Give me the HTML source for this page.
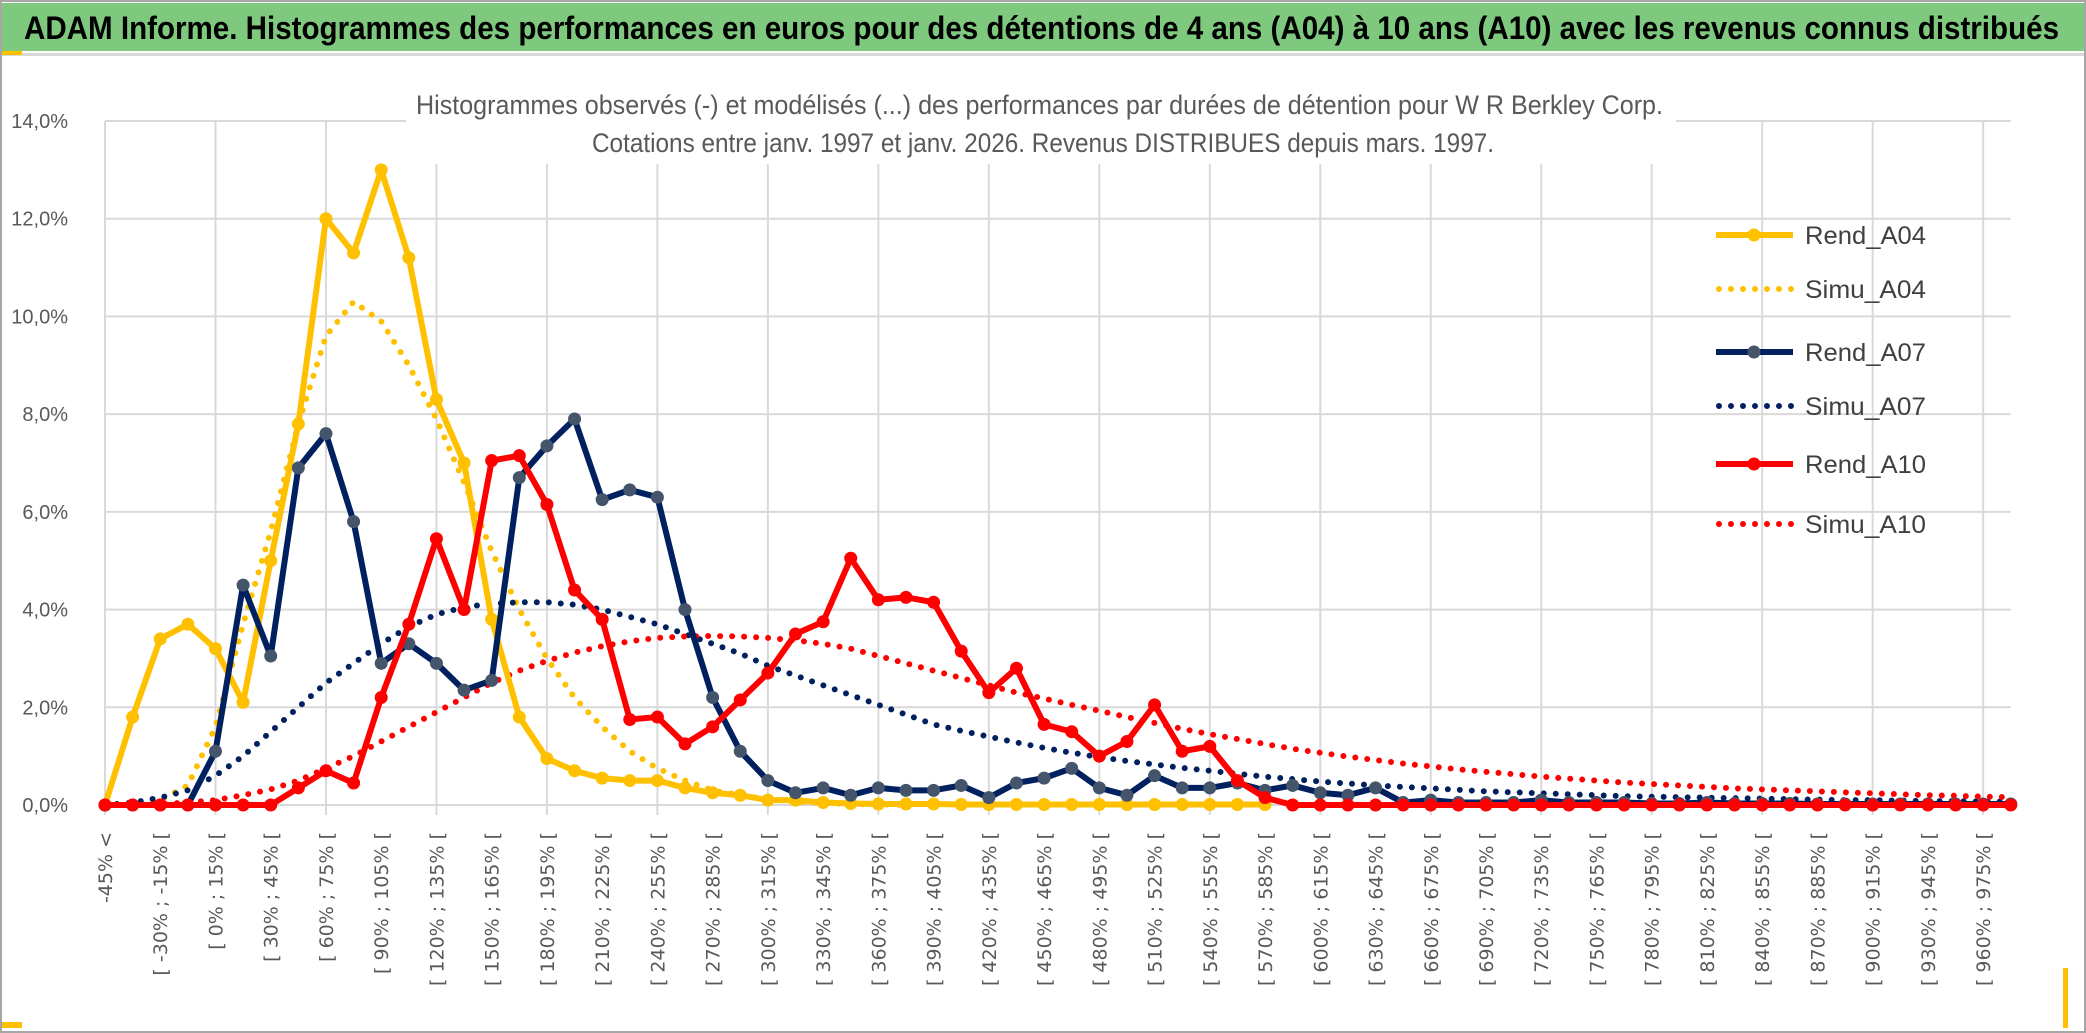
<!DOCTYPE html>
<html><head><meta charset="utf-8"><style>
html,body{margin:0;padding:0;background:#fff;}
svg{display:block;font-family:"Liberation Sans",sans-serif;}
</style></head><body>
<svg id="chart" width="2086" height="1033" viewBox="0 0 2086 1033" xmlns="http://www.w3.org/2000/svg">
<rect x="1" y="1" width="2084" height="1031" fill="#fff" stroke="#a6a6a6" stroke-width="2"/>
<rect x="2" y="3" width="2082" height="48" fill="#7fc97f"/>
<rect x="2" y="53" width="2082" height="3" fill="#d9d9d9"/>
<rect x="2" y="51" width="20" height="4" fill="#ffc000"/>
<rect x="2" y="1022" width="20" height="6" fill="#ffc000"/>
<rect x="2063" y="968" width="5" height="60" fill="#ffc000"/>
<text x="24" y="39" font-size="32" font-weight="bold" fill="#000" textLength="2035" lengthAdjust="spacingAndGlyphs">ADAM Informe. Histogrammes des performances en euros pour des détentions de 4 ans (A04) à 10 ans (A10) avec les revenus connus distribués</text>
<g id="grid"></g><g id="axes"></g>
<rect x="406" y="78" width="1270" height="86" fill="#fff"/>
<text x="416" y="114" font-size="27" fill="#595959" textLength="1247" lengthAdjust="spacingAndGlyphs">Histogrammes observés (-) et modélisés (...) des performances par durées de détention pour W R Berkley Corp.</text>
<text x="592" y="152" font-size="27" fill="#595959" textLength="902" lengthAdjust="spacingAndGlyphs">Cotations entre janv. 1997 et janv. 2026. Revenus DISTRIBUES depuis mars. 1997.</text>
<g id="series"></g><g id="legend"></g>
</svg>
<script>
const categories = (function(){const c=["-45% <"];for(let a=-45;a<=990;a+=15){c.push("[ "+a+"% ; "+(a+15)+"% [");}return c.slice(0,70);})();
const yTicks = [0,2,4,6,8,10,12,14];
const yTickLabels = ["0,0%","2,0%","4,0%","6,0%","8,0%","10,0%","12,0%","14,0%"];
const rendA04 = [0,1.8,3.4,3.7,3.2,2.1,5.0,7.8,12.0,11.3,13.0,11.2,8.3,7.0,3.8,1.8,0.95,0.7,0.55,0.5,0.5,0.35,0.25,0.2,0.1,0.1,0.05,0.03,0.02,0.02,0.02,0.01,0.01,0.01,0.01,0.01,0.01,0.01,0.01,0.01,0.01,0.01,0.01];
const simuA04 = [0,0.02,0.1,0.4,1.6,3.7,5.6,7.8,9.6,10.3,9.9,9.0,7.9,6.6,5.2,4.0,3.0,2.2,1.6,1.1,0.75,0.5,0.3,0.2,0.12,0.07,0.04,0.02,0.01,0];
const rendA07 = [0,0,0,0,1.1,4.5,3.05,6.9,7.6,5.8,2.9,3.3,2.9,2.35,2.55,6.7,7.35,7.9,6.25,6.45,6.3,4.0,2.2,1.1,0.5,0.25,0.35,0.2,0.35,0.3,0.3,0.4,0.15,0.45,0.55,0.75,0.35,0.2,0.6,0.35,0.35,0.45,0.3,0.4,0.25,0.2,0.35,0.05,0.1,0.05,0.05,0.05,0.1,0.05,0.05,0.05,0.03,0.03,0.05,0.03,0.03,0.03,0.02,0.02,0.02,0.02,0.02,0.02,0.02,0.02];
const simuA07 = [0,0.05,0.15,0.3,0.6,1.0,1.5,2.0,2.5,2.9,3.3,3.65,3.9,4.05,4.12,4.15,4.15,4.1,4.0,3.85,3.7,3.5,3.3,3.1,2.85,2.65,2.45,2.25,2.05,1.85,1.65,1.52,1.4,1.28,1.17,1.07,0.98,0.9,0.83,0.76,0.7,0.64,0.58,0.53,0.48,0.44,0.4,0.37,0.34,0.31,0.28,0.26,0.24,0.22,0.2,0.18,0.17,0.16,0.15,0.14,0.13,0.12,0.11,0.1,0.1,0.09,0.08,0.08,0.07,0.07];
const rendA10 = [0,0,0,0,0,0,0,0.35,0.7,0.45,2.2,3.7,5.45,4.0,7.05,7.15,6.15,4.4,3.8,1.75,1.8,1.25,1.6,2.15,2.7,3.5,3.75,5.05,4.2,4.25,4.15,3.15,2.3,2.8,1.65,1.5,1.0,1.3,2.05,1.1,1.2,0.5,0.15,0,0,0,0,0,0,0,0,0,0,0,0,0,0,0,0,0,0,0,0,0,0,0,0,0,0,0];
const simuA10 = [0,0,0.02,0.05,0.1,0.2,0.32,0.5,0.75,1.0,1.3,1.6,1.9,2.2,2.5,2.75,2.95,3.12,3.25,3.35,3.42,3.45,3.46,3.45,3.42,3.37,3.3,3.2,3.05,2.9,2.75,2.6,2.45,2.3,2.18,2.05,1.93,1.8,1.68,1.56,1.45,1.35,1.25,1.15,1.07,0.99,0.92,0.85,0.79,0.73,0.68,0.63,0.58,0.54,0.5,0.46,0.43,0.4,0.37,0.34,0.32,0.3,0.28,0.26,0.24,0.22,0.2,0.19,0.17,0.16];
const seriesNames = ["Rend_A04","Simu_A04","Rend_A07","Simu_A07","Rend_A10","Simu_A10"];

const NS="http://www.w3.org/2000/svg";
const X0=105, STEP=27.62, Y0=805, YTOP=121, YMAX=14;
function xPos(i){return X0+i*STEP;}
function yPos(v){return Y0-(v/YMAX)*(Y0-YTOP);}
function mk(tag,parent,attrs){const e=document.createElementNS(NS,tag);for(const k in attrs)e.setAttribute(k,attrs[k]);parent.appendChild(e);return e;}
const grid=document.getElementById('grid'), axes=document.getElementById('axes'), ser=document.getElementById('series'), leg=document.getElementById('legend');
const XEND=xPos(categories.length-1);
yTicks.forEach((t,k)=>{
  const l=mk('line',grid,{x1:X0,x2:XEND,y1:yPos(t),y2:yPos(t),stroke:'#d9d9d9','stroke-width':2});
  
  
  const tx=mk('text',axes,{x:68,y:yPos(t)+7,'text-anchor':'end','font-size':20,fill:'#595959'});
  tx.textContent=yTickLabels[k];
  
  
});
for(let i=0;i<categories.length;i+=4){
  const l=mk('line',grid,{x1:xPos(i),x2:xPos(i),y1:YTOP,y2:Y0+10,stroke:'#d9d9d9','stroke-width':2});
  
  
}
categories.forEach((c,i)=>{
  if(i%2) return;
  const x=xPos(i)+7, y=832;
  const t=mk('text',axes,{x:x,y:y,'text-anchor':'end','font-size':19,fill:'#595959','font-family':'DejaVu Sans, sans-serif',transform:'rotate(-90 '+x+' '+y+')'});
  t.textContent=c;
  
  
});
function pts(arr){return arr.map((v,i)=>xPos(i)+','+yPos(v)).join(' ');}
function dotted(arr,color,name){
  const p=mk('polyline',ser,{points:pts(arr),fill:'none',stroke:color,'stroke-width':6,'stroke-linecap':'round','stroke-dasharray':'0 12'});
  
  
}
function solid(arr,color,mcolor,name){
  const g=mk('g',ser,{});
  
  
  mk('polyline',g,{points:pts(arr),fill:'none',stroke:color,'stroke-width':6,'stroke-linejoin':'round'});
  arr.forEach((v,i)=>{
    const c=mk('circle',g,{cx:xPos(i),cy:yPos(v),r:6.5,fill:mcolor});
    
    
  });
}
dotted(simuA04,'#ffc000','simu-a04-line');
dotted(simuA07,'#002060','simu-a07-line');
dotted(simuA10,'#ff0000','simu-a10-line');
solid(rendA04,'#ffc000','#ffc000','rend-a04-line');
solid(rendA07,'#002060','#44546a','rend-a07-line');
solid(rendA10,'#ff0000','#ff0000','rend-a10-line');
const legY=[235,289,352,406,464,524];
const legColor=['#ffc000','#ffc000','#002060','#002060','#ff0000','#ff0000'];
const legMark=['#ffc000',null,'#44546a',null,'#ff0000',null];
seriesNames.forEach((n,k)=>{
  const g=mk('g',leg,{});
  
  
  const y=legY[k];
  if(legMark[k]){
    mk('line',g,{x1:1716,x2:1793,y1:y,y2:y,stroke:legColor[k],'stroke-width':6});
    mk('circle',g,{cx:1754,cy:y,r:6.5,fill:legMark[k]});
  } else {
    mk('line',g,{x1:1719,x2:1793,y1:y,y2:y,stroke:legColor[k],'stroke-width':6,'stroke-linecap':'round','stroke-dasharray':'0 12'});
  }
  const t=mk('text',g,{x:1805,y:y+9,'font-size':25,fill:'#404040',textLength:121,lengthAdjust:'spacingAndGlyphs'});
  t.textContent=n;
});
</script>
</body></html>
